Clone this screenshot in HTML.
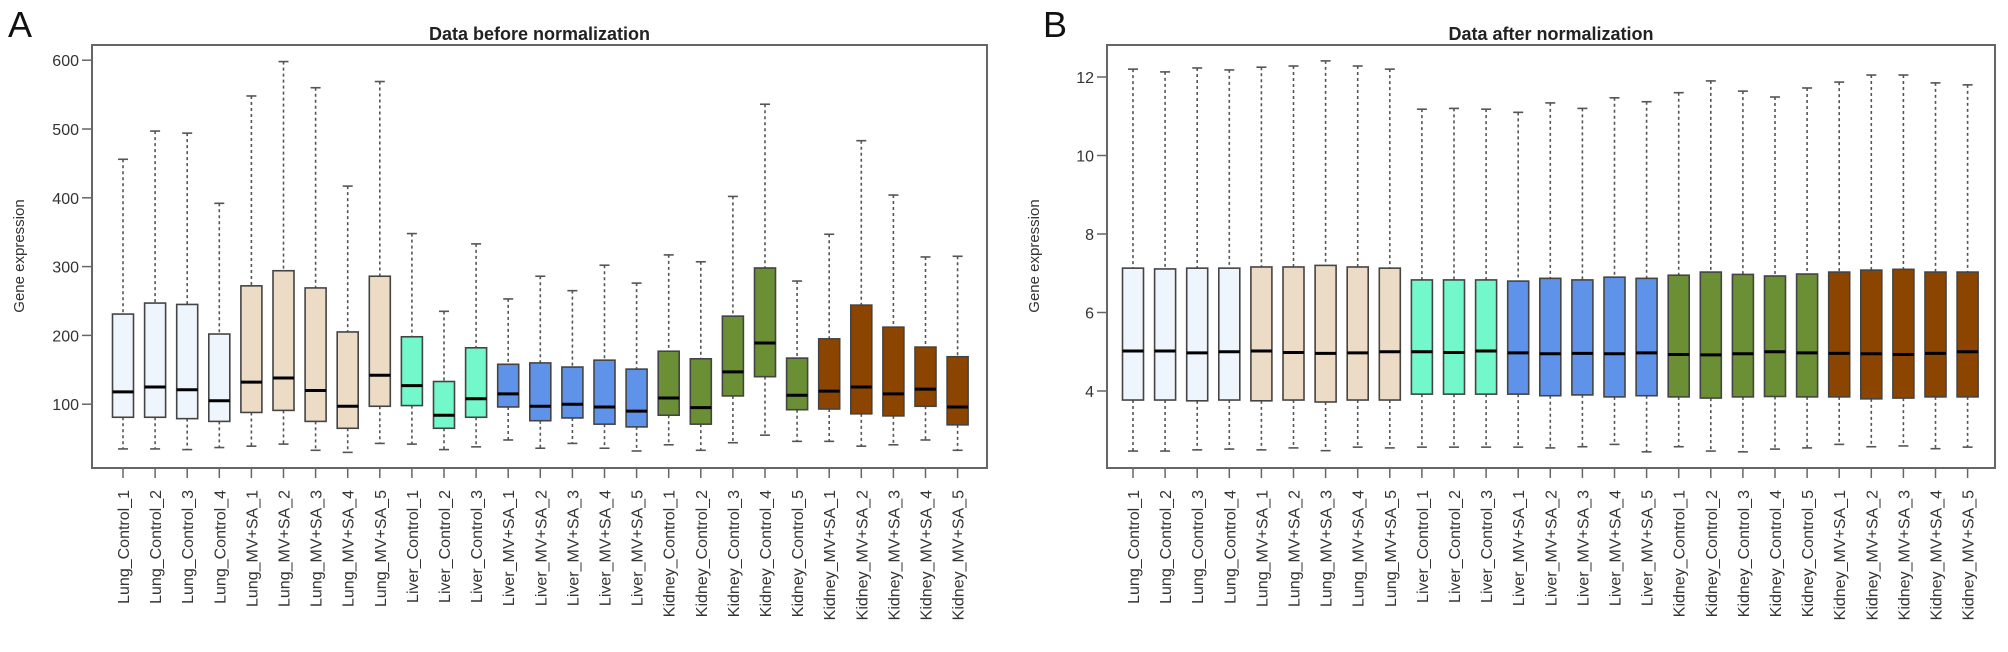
<!DOCTYPE html>
<html><head><meta charset="utf-8"><style>
html,body{margin:0;padding:0;background:#fff;}
svg{display:block;font-family:"Liberation Sans",Arial,sans-serif;}
</style></head><body>
<svg id="chart" width="2008" height="652" viewBox="0 0 2008 652" xmlns="http://www.w3.org/2000/svg">
<text x="8" y="37" font-size="36" fill="#111">A</text>
<text x="1043" y="37" font-size="36" fill="#111">B</text>
</svg>
<script>
const samples = ["Lung_Control_1","Lung_Control_2","Lung_Control_3","Lung_Control_4","Lung_MV+SA_1","Lung_MV+SA_2","Lung_MV+SA_3","Lung_MV+SA_4","Lung_MV+SA_5","Liver_Control_1","Liver_Control_2","Liver_Control_3","Liver_MV+SA_1","Liver_MV+SA_2","Liver_MV+SA_3","Liver_MV+SA_4","Liver_MV+SA_5","Kidney_Control_1","Kidney_Control_2","Kidney_Control_3","Kidney_Control_4","Kidney_Control_5","Kidney_MV+SA_1","Kidney_MV+SA_2","Kidney_MV+SA_3","Kidney_MV+SA_4","Kidney_MV+SA_5"];
const groupColors = ["#eff5fc","#ecdcc6","#72f8cb","#5f93ea","#6b8f35","#8b4500"];
const groupOf = [0,0,0,0,1,1,1,1,1,2,2,2,3,3,3,3,3,4,4,4,4,4,5,5,5,5,5];
// Panel A (before normalization)
const aLow = [35,35,34,37,39,42,33,30,43,42,34,38,48,36,43,36,32,41,33,44,55,46,46,39,41,48,33];
const aQ1  = [81,81,79,75,88,91,75,65,97,98,65,81,96,76,80,71,67,84,71,112,140,92,93,86,83,97,70];
const aMed = [118,125,121,105,132,138,120,97,142,127,84,108,115,97,100,96,90,109,95,147,189,113,119,125,115,122,96];
const aQ3  = [231,247,245,202,272,294,269,205,286,198,133,182,158,160,154,164,151,177,166,228,298,167,195,244,212,183,169];
const aHigh= [456,497,494,392,548,598,560,417,569,348,235,333,253,286,265,302,276,317,307,402,536,279,347,483,404,314,315];
const aTicks = [100,200,300,400,500,600];
// Panel B (after normalization)
const bLow = [2.47,2.47,2.5,2.52,2.5,2.55,2.48,2.57,2.55,2.57,2.57,2.57,2.57,2.55,2.58,2.64,2.45,2.58,2.47,2.45,2.52,2.55,2.64,2.58,2.6,2.53,2.57];
const bQ1  = [3.77,3.77,3.75,3.77,3.75,3.77,3.72,3.77,3.77,3.92,3.92,3.92,3.92,3.88,3.9,3.85,3.88,3.85,3.82,3.85,3.86,3.85,3.85,3.8,3.82,3.85,3.85];
const bMed = [5.02,5.02,4.97,5.0,5.02,4.98,4.96,4.97,5.0,5.0,4.98,5.02,4.97,4.95,4.96,4.95,4.97,4.93,4.92,4.95,5.0,4.97,4.96,4.95,4.93,4.96,5.0];
const bQ3  = [7.13,7.11,7.13,7.13,7.16,7.16,7.2,7.16,7.13,6.83,6.83,6.83,6.8,6.87,6.83,6.9,6.87,6.95,7.03,6.97,6.93,6.98,7.03,7.08,7.1,7.03,7.03];
const bHigh= [12.2,12.13,12.23,12.18,12.25,12.28,12.41,12.28,12.2,11.18,11.2,11.18,11.1,11.34,11.2,11.47,11.37,11.6,11.9,11.64,11.49,11.72,11.87,12.05,12.05,11.85,11.8];
const bTicks = [4,6,8,10,12];

const NS="http://www.w3.org/2000/svg";
const svg=document.getElementById('chart');
function mk(tag,attrs,parent){const e=document.createElementNS(NS,tag);for(const k in attrs)e.setAttribute(k,attrs[k]);(parent||svg).appendChild(e);return e;}

function panel(cfg){
  const g=mk('g',{});
  
  
  const y=v=>cfg.y0+(v-cfg.v0)*cfg.k;
  const x=i=>cfg.x0+i*cfg.dx;
  const t=mk('text',{x:(cfg.left+cfg.right)/2,y:40,'font-size':18,'font-weight':'bold','text-anchor':'middle',fill:'#222'},g);
  t.textContent=cfg.title;
  
  
  const frame=mk('rect',{x:cfg.left,y:45,width:cfg.right-cfg.left,height:423,fill:'none',stroke:'#666','stroke-width':2},g);
  
  
  const yt=mk('text',{transform:`translate(${cfg.ytitleX},256) rotate(-90)`,'font-size':15,'text-anchor':'middle',fill:'#333'},g);
  yt.textContent='Gene expression';
  
  
  cfg.ticks.forEach(v=>{
    mk('line',{x1:cfg.left-10,x2:cfg.left,y1:y(v),y2:y(v),stroke:'#666','stroke-width':1.5},g);
    const tl=mk('text',{x:cfg.left-13,y:y(v)+6,'font-size':16,'text-anchor':'end',fill:'#333'},g);
    tl.textContent=v;
    
    
  });
  const w=21,cap=5;
  samples.forEach((s,i)=>{
    const cx=x(i);
    const col=groupColors[groupOf[i]];
    const bg=mk('g',{},g);
    
    
    mk('line',{x1:cx,x2:cx,y1:y(cfg.high[i]),y2:y(cfg.q3[i]),stroke:'#555','stroke-width':1.6,'stroke-dasharray':'3,3'},bg);
    mk('line',{x1:cx,x2:cx,y1:y(cfg.q1[i]),y2:y(cfg.low[i]),stroke:'#555','stroke-width':1.6,'stroke-dasharray':'3,3'},bg);
    mk('line',{x1:cx-cap,x2:cx+cap,y1:y(cfg.high[i]),y2:y(cfg.high[i]),stroke:'#555','stroke-width':1.6},bg);
    mk('line',{x1:cx-cap,x2:cx+cap,y1:y(cfg.low[i]),y2:y(cfg.low[i]),stroke:'#555','stroke-width':1.6},bg);
    mk('rect',{x:cx-w/2,y:y(cfg.q3[i]),width:w,height:y(cfg.q1[i])-y(cfg.q3[i]),fill:col,stroke:'#444','stroke-width':1.6},bg);
    mk('line',{x1:cx-w/2,x2:cx+w/2,y1:y(cfg.med[i]),y2:y(cfg.med[i]),stroke:'#000','stroke-width':3},bg);
    mk('line',{x1:cx,x2:cx,y1:468,y2:478,stroke:'#666','stroke-width':1.5},g);
    const xl=mk('text',{transform:`translate(${cx+6},490) rotate(-90)`,'font-size':16,'text-anchor':'end',fill:'#333'},g);
    xl.textContent=s;
    
    
  });
}
panel({name:'panel-a-before-normalization',title:'Data before normalization',left:92,right:987,x0:123,dx:32.1,y0:473,v0:0,k:-0.688,ytitleX:24,ticks:aTicks,low:aLow,q1:aQ1,med:aMed,q3:aQ3,high:aHigh});
panel({name:'panel-b-after-normalization',title:'Data after normalization',left:1107,right:1995,x0:1133,dx:32.1,y0:391,v0:4,k:-39.25,ytitleX:1039,ticks:bTicks,low:bLow,q1:bQ1,med:bMed,q3:bQ3,high:bHigh});
</script>
</body></html>
